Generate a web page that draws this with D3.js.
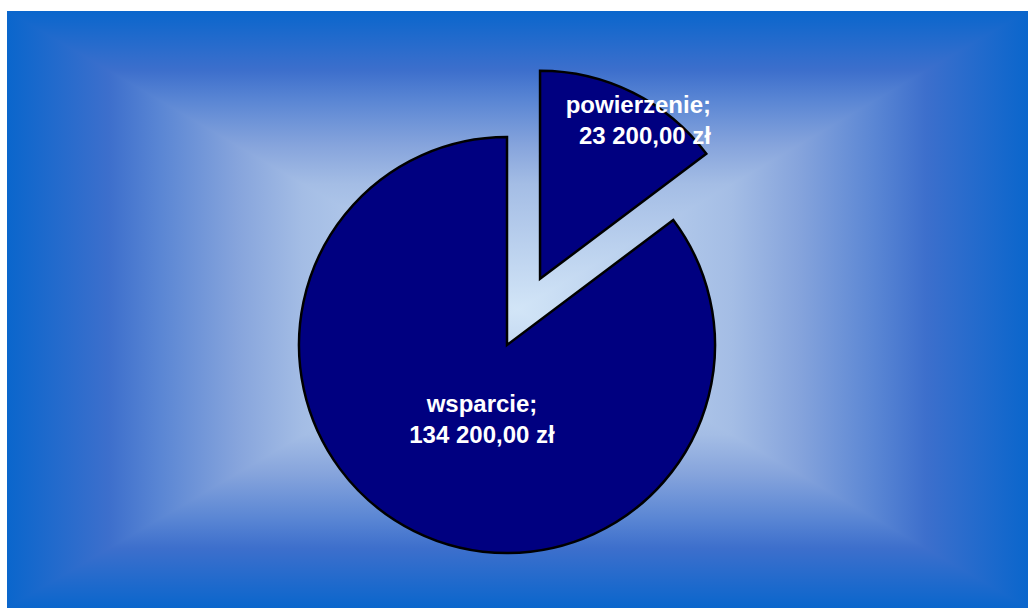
<!DOCTYPE html>
<html>
<head>
<meta charset="utf-8">
<script src="https://cdn.jsdelivr.net/npm/d3@7"></script>
<style>
  html, body { margin: 0; padding: 0; background: #ffffff; }
  svg { display: block; }
</style>
</head>
<body>
<svg id="chart" width="1028" height="608"></svg>
<script>
// Data
const categories = ["powierzenie", "wsparcie"];
const values = [23200, 134200];
const valueLabels = ["23 200,00 zł", "134 200,00 zł"];
const exploded = [true, false];

const W = 1028, H = 608;
const svg = d3.select("#chart");
const defs = svg.append("defs");

// Background area
const bx0 = 7, by0 = 11, bx1 = 1028, by1 = 608;
const cx = (bx0 + bx1) / 2, cy = (by0 + by1) / 2;
const stops = [
  { o: 0, c: "#0a66cc" },
  { o: 0.2, c: "#3d6fcc" },
  { o: 0.3, c: "#5a86d4" },
  { o: 0.45, c: "#86a4dc" },
  { o: 0.58, c: "#a4bde5" },
  { o: 1, c: "#d2e5f7" }
];
function grad(id, x1, y1, x2, y2) {
  const g = defs.append("linearGradient").attr("id", id)
    .attr("gradientUnits", "userSpaceOnUse")
    .attr("x1", x1).attr("y1", y1).attr("x2", x2).attr("y2", y2);
  let s = stops.map(d => ({ o: d.o / 2, c: d.c }));
  s = s.concat(stops.slice().reverse().map(d => ({ o: 1 - d.o / 2, c: d.c })));
  s.forEach(d => g.append("stop").attr("offset", d.o).attr("stop-color", d.c));
}
grad("gH", bx0, 0, bx1, 0);
grad("gV", 0, by0, 0, by1);
const bg = svg.append("g");
bg.append("rect").attr("x", bx0).attr("y", by0).attr("width", bx1 - bx0).attr("height", by1 - by0)
  .attr("fill", "url(#gH)");
bg.append("polygon").attr("points", [[bx0, by0], [bx1, by0], [cx, cy]].map(p => p.join(",")).join(" "))
  .attr("fill", "url(#gV)");
bg.append("polygon").attr("points", [[bx0, by1], [bx1, by1], [cx, cy]].map(p => p.join(",")).join(" "))
  .attr("fill", "url(#gV)");

// Pie
const pcx = 507, pcy = 345, R = 208, explode = 74;
const pie = d3.pie().sort(null).value(d => d.v);
const data = categories.map((c, i) => ({ c, v: values[i], label: valueLabels[i], ex: exploded[i] }));
const arcs = pie(data);
const arc = d3.arc().innerRadius(0).outerRadius(R);

const g = svg.append("g").attr("transform", `translate(${pcx},${pcy})`);
g.selectAll("path").data(arcs).enter().append("path")
  .attr("d", arc)
  .attr("transform", d => {
    if (!d.data.ex) return null;
    const a = (d.startAngle + d.endAngle) / 2;
    return `translate(${explode * Math.sin(a)},${-explode * Math.cos(a)})`;
  })
  .attr("fill", "#000080")
  .attr("stroke", "#000000")
  .attr("stroke-width", 2.5)
  .attr("stroke-linejoin", "miter");

// Labels
const labelPos = {
  powierzenie: { x: 711, y: 113, anchor: "end" },
  wsparcie: { x: 482, y: 412, anchor: "middle" }
};
arcs.forEach(d => {
  const p = labelPos[d.data.c];
  const t = svg.append("text")
    .attr("x", p.x).attr("y", p.y)
    .attr("text-anchor", p.anchor)
    .attr("fill", "#ffffff")
    .attr("font-family", "Liberation Sans, Arial, sans-serif")
    .attr("font-weight", "bold")
    .attr("font-size", 24);
  t.append("tspan").attr("x", p.x).text(d.data.c + ";");
  t.append("tspan").attr("x", p.x).attr("dy", 31).text(d.data.label);
});
</script>
</body>
</html>
